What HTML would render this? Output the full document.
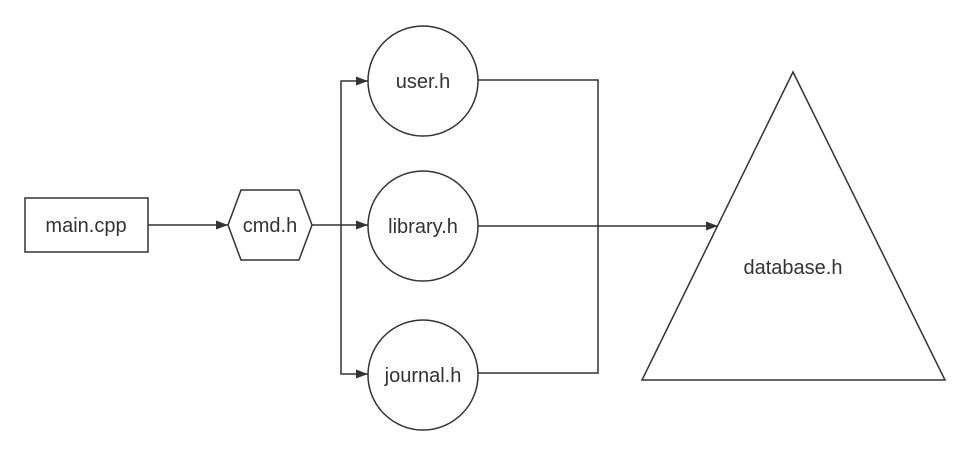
<!DOCTYPE html>
<html><head><meta charset="utf-8"><style>html,body{margin:0;padding:0;background:#fff}svg{display:block}text{font-family:"Liberation Sans","Noto Sans CJK SC",sans-serif;fill:#333}</style></head>
<body>
<svg width="970" height="453" viewBox="0 0 970 453" xmlns="http://www.w3.org/2000/svg">
<defs><marker id="a" markerWidth="12" markerHeight="9" refX="12" refY="4.5" orient="auto" markerUnits="userSpaceOnUse"><path d="M0,0 L12,4.5 L0,9 Z" fill="#333"/></marker></defs>
<g fill="none" stroke="#333" stroke-width="1.5">
<rect x="25" y="198" width="123" height="54" fill="#fff"/>
<polygon points="241,190 299,190 312,225 299,260 241,260 228,225" fill="#fff"/>
<circle cx="423" cy="81" r="55"/>
<circle cx="423" cy="226" r="55"/>
<circle cx="423" cy="375" r="55"/>
<polygon points="793,72 945,380 642,380" fill="#fff"/>
<line x1="148" y1="225" x2="228" y2="225" marker-end="url(#a)"/>
<line x1="312" y1="225" x2="368" y2="225" marker-end="url(#a)"/>
<polyline points="341,225 341,81 368,81" marker-end="url(#a)"/>
<polyline points="341,225 341,374 368,374" marker-end="url(#a)"/>
<polyline points="478,80 598,80 598,373 478,373"/>
<line x1="478" y1="226" x2="718" y2="226" marker-end="url(#a)"/>
</g>
<g font-size="20" text-anchor="middle">
<text x="86" y="232">main.cpp</text>
<text x="270" y="232">cmd.h</text>
<text x="423" y="88">user.h</text>
<text x="423" y="233">library.h</text>
<text x="423" y="382">journal.h</text>
<text x="793" y="274">database.h</text>
</g>
</svg>
</body></html>
